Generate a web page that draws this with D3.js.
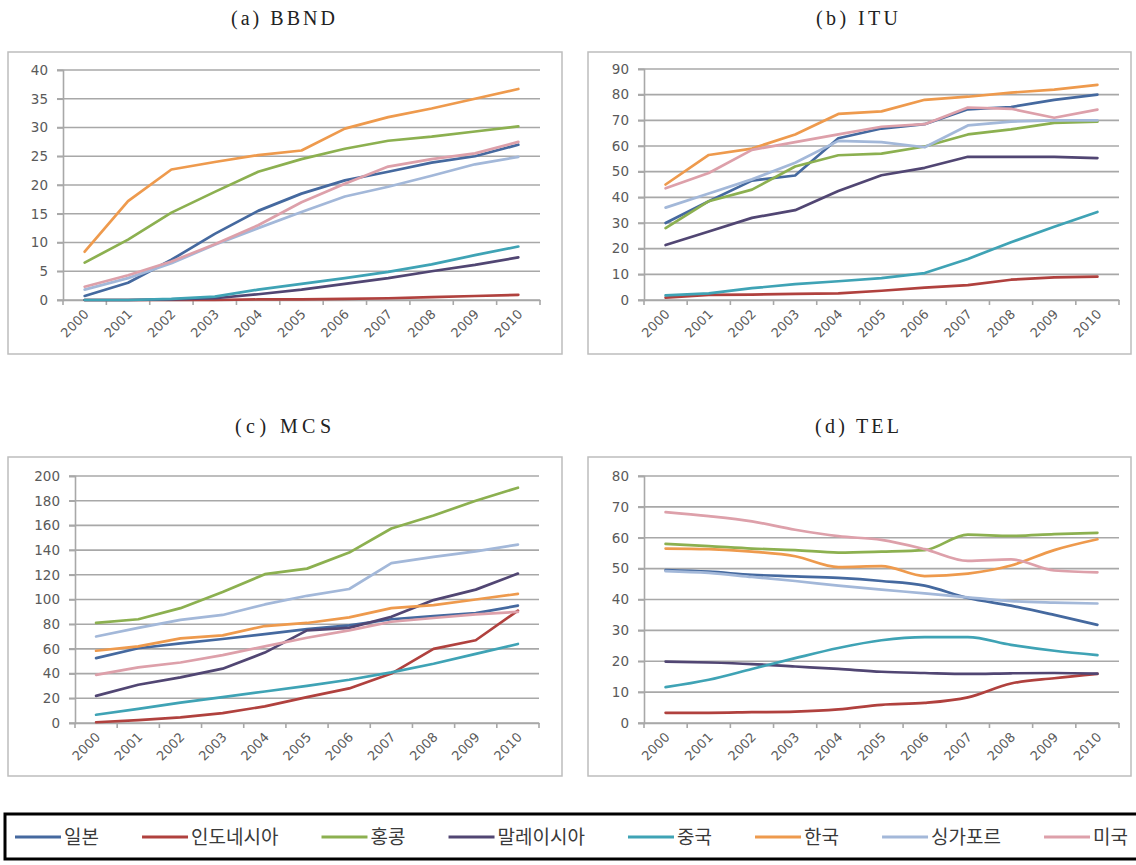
<!DOCTYPE html>
<html><head><meta charset="utf-8">
<script src="https://cdn.jsdelivr.net/npm/d3@7"></script>
<style>
html,body{margin:0;padding:0;background:#fff;}
svg{display:block;}
</style></head>
<body>
<svg id="chart" width="1136" height="865"></svg>
<script>
const years = ["2000","2001","2002","2003","2004","2005","2006","2007","2008","2009","2010"];
const countries = ["일본","인도네시아","홍콩","말레이시아","중국","한국","싱가포르","미국"];
const seriesColors = ["#45699F","#B0413E","#8CB050","#514673","#3FA3B5","#EE9A4D","#A3B8D9","#DDA0AA"];

// rows follow the order of `countries`
const bbnd = [
  [0.7, 3.0, 7.0, 11.5, 15.5, 18.5, 20.8, 22.3, 23.9, 25.0, 27.0],
  [0, 0, 0, 0, 0.1, 0.1, 0.2, 0.3, 0.5, 0.7, 0.9],
  [6.5, 10.5, 15.2, 18.8, 22.3, 24.5, 26.3, 27.7, 28.4, 29.3, 30.2],
  [0, 0, 0.1, 0.3, 1.0, 1.8, 2.8, 3.8, 5.0, 6.1, 7.4],
  [0, 0, 0.2, 0.6, 1.8, 2.8, 3.8, 4.9, 6.2, 7.8, 9.3],
  [8.4, 17.2, 22.7, 24.0, 25.2, 26.0, 29.8, 31.8, 33.3, 35.0, 36.7],
  [1.8, 3.8, 6.4, 9.6, 12.5, 15.3, 18.0, 19.7, 21.6, 23.6, 24.9],
  [2.3, 4.3, 6.7, 9.7, 13.0, 17.0, 20.2, 23.2, 24.5, 25.5, 27.5]
];
const itu = [
  [30, 38.5, 46.5, 48.5, 63, 66.8, 68.5, 74.3, 75.2, 78, 80],
  [0.9, 2.0, 2.1, 2.4, 2.6, 3.6, 4.8, 5.8, 7.9, 8.8, 9.1],
  [28, 38.5, 43, 52, 56.4, 57, 59.8, 64.5, 66.5, 69, 69.5],
  [21.4, 26.7, 32, 35, 42.5, 48.6, 51.5, 55.8, 55.8, 55.8, 55.3],
  [1.8, 2.6, 4.6, 6.2, 7.3, 8.5, 10.5, 16, 22.5, 28.5, 34.3],
  [45, 56.5, 59, 64.5, 72.5, 73.5, 78, 79.2, 80.8, 82, 83.8],
  [36, 41.5, 47, 53.5, 62, 61.5, 59.5, 68, 69.5, 70, 70],
  [43.5, 49.5, 58.5, 61.5, 64.5, 67.5, 68.5, 75, 74.5, 71, 74.2]
];
const mcs = [
  [52.5, 60.5, 64.5, 68, 72, 76, 79, 84, 86.5, 89, 95],
  [0.6, 2.4, 4.5, 8, 13.5, 21, 28, 40, 60, 67, 91],
  [81, 84, 93, 106, 120.5, 125, 138, 157.5, 168, 180, 190.5],
  [22, 31, 37, 44, 57, 75, 77, 86, 99.5, 108, 121],
  [6.7, 11.5, 16.5, 21, 25.5, 30, 35, 41, 48, 56, 64],
  [58.5, 62, 68.5, 71, 78.5, 81, 85.5, 93, 95.5, 100, 104.5],
  [70, 77, 83.5, 87.5, 96, 103, 108.5, 129.5, 134.5, 139, 144.5],
  [39, 45, 49, 55, 62, 69, 75, 82, 85, 88, 90]
];
const tel = [
  [49.5, 49, 48, 47.5, 47, 46, 44.5, 40.5, 38, 35, 31.8],
  [3.3, 3.3, 3.5, 3.7, 4.4, 5.9, 6.5, 8.3, 12.8, 14.5, 15.9],
  [58, 57.3, 56.5, 56, 55.2, 55.5, 56, 61, 60.6, 61.2, 61.6],
  [19.9, 19.6, 19.1, 18.3, 17.5, 16.6, 16.2, 15.9, 16.1, 16.2, 16],
  [11.6, 14, 17.5, 21, 24.3, 26.8, 27.8, 27.8, 25.3, 23.4, 22],
  [56.5, 56.3, 55.5, 54, 50.5, 50.8, 47.6, 48.4, 51, 56, 59.5],
  [49.2, 48.6, 47.3, 46, 44.5, 43.2, 42, 40.7, 39.5, 39, 38.7],
  [68.3, 67, 65.3, 62.6, 60.5, 59.3, 56.3, 52.5, 53, 49.4, 48.8]
];
const panelTitles = ["(a) BBND", "(b) ITU", "(c) MCS", "(d) TEL"];
const panelMax = [40, 90, 200, 80];
const panelStep = [5, 10, 20, 10];

// ---- layout (positions / styles) ----
const layouts = [
  {box:[8,52,562,354],    plot:{l:63, r:540, t:70,  b:300}, title:[283, 25],  tw:104},
  {box:[588,52,1131,354], plot:{l:644,r:1119,t:69,  b:300}, title:[857, 25],  tw:82},
  {box:[8,457,562,776],   plot:{l:75, r:539, t:476, b:723}, title:[283, 433], tw:96},
  {box:[588,457,1131,776],plot:{l:644,r:1119,t:476, b:723}, title:[857, 433], tw:84}
];
const panelData = [bbnd, itu, mcs, tel];
const curves = [d3.curveLinear, d3.curveLinear, d3.curveLinear, d3.curveMonotoneX];

const svg = d3.select("#chart");
svg.append("rect").attr("width",1136).attr("height",865).attr("fill","#fff");

const axisColor = "#a8a8a8";
const labelColor = "#5a5a5a";

panelData.forEach((data, pi) => {
  const L = layouts[pi];
  const g = svg.append("g");
  // title
  g.append("text")
    .attr("x", L.title[0]).attr("y", L.title[1])
    .attr("text-anchor","middle")
    .attr("font-family","'Liberation Serif', 'DejaVu Serif', serif")
    .attr("font-size", 20)
    .attr("fill","#222")
    .attr("textLength", L.tw).attr("lengthAdjust","spacing")
    .text(panelTitles[pi]);
  // frame
  g.append("rect")
    .attr("x", L.box[0]).attr("y", L.box[1])
    .attr("width", L.box[2]-L.box[0]).attr("height", L.box[3]-L.box[1])
    .attr("fill","#fff").attr("stroke","#bdbdbd").attr("stroke-width",1.5);

  const x = d3.scaleBand().domain(years).range([L.plot.l, L.plot.r]);
  const y = d3.scaleLinear().domain([0, panelMax[pi]]).range([L.plot.b, L.plot.t]);
  const ticks = d3.range(0, panelMax[pi] + panelStep[pi]/2, panelStep[pi]);

  // gridlines
  g.append("g").selectAll("line").data(ticks).join("line")
    .attr("x1", L.plot.l - 6).attr("x2", L.plot.r)
    .attr("y1", d => y(d)).attr("y2", d => y(d))
    .attr("stroke", axisColor).attr("stroke-width", 1.6);

  // y axis
  const yAxis = g.append("g").attr("transform", `translate(${L.plot.l},0)`)
    .call(d3.axisLeft(y).tickValues(ticks).tickSize(6).tickPadding(9).tickFormat(d3.format("d")));
  yAxis.select(".domain").attr("stroke", axisColor).attr("stroke-width",1.6);
  yAxis.selectAll(".tick line").attr("stroke", axisColor).attr("stroke-width",1.6);
  yAxis.selectAll(".tick text")
    .attr("font-family","'DejaVu Sans', sans-serif").attr("font-size",13.5)
    .attr("fill", labelColor);

  // x axis
  const xAxis = g.append("g").attr("transform", `translate(0,${L.plot.b})`)
    .call(d3.axisBottom(x).tickSize(0).tickPadding(0));
  xAxis.select(".domain").attr("stroke", axisColor).attr("stroke-width",1.6);
  xAxis.selectAll(".tick text")
    .attr("font-family","'DejaVu Sans', sans-serif").attr("font-size",13)
    .attr("fill", labelColor)
    .attr("text-anchor","end")
    .attr("dy", null).attr("y", 0)
    .attr("transform","translate(5,15) rotate(-45)");
  // category boundary tick marks
  const bounds = years.map(d => x(d)).concat([L.plot.r]);
  g.append("g").selectAll("line").data(bounds).join("line")
    .attr("x1", d => d).attr("x2", d => d)
    .attr("y1", L.plot.b).attr("y2", L.plot.b + 5)
    .attr("stroke", axisColor).attr("stroke-width",1.6);

  // series
  const line = d3.line()
    .x((d,i) => x(years[i]) + x.bandwidth()/2)
    .y(d => y(d))
    .curve(curves[pi]);
  g.append("g").selectAll("path").data(data).join("path")
    .attr("d", d => line(d))
    .attr("fill","none")
    .attr("stroke", (d,i) => seriesColors[i])
    .attr("stroke-width", 2.7)
    .attr("stroke-linejoin","round")
    .attr("stroke-linecap","round");
});

// legend
const lg = svg.append("g");
lg.append("rect").attr("x",5).attr("y",814).attr("width",1140).attr("height",45)
  .attr("fill","#fff").attr("stroke","#000").attr("stroke-width",3);
const items = lg.selectAll("g.item").data(countries).join("g").attr("class","item");
items.append("line").attr("x1",0).attr("x2",46).attr("y1",0).attr("y2",0)
  .attr("stroke",(d,i)=>seriesColors[i]).attr("stroke-width",3);
items.append("text").attr("x",49).attr("y",0).attr("dy","0.35em")
  .attr("font-family","'Noto Sans CJK KR', sans-serif").attr("font-size",19)
  .attr("fill","#3a3a3a").text(d=>d);
// place sequentially, spreading items across the available width
const widths = [];
items.each(function(){ widths.push(49 + d3.select(this).select("text").node().getComputedTextLength()); });
const startX = 15, endX = 1128;
const gap = (endX - startX - d3.sum(widths)) / (countries.length - 1);
let cx = startX;
items.each(function(d,i){
  d3.select(this).attr("transform", `translate(${cx},837)`);
  cx += widths[i] + gap;
});
</script>
</body></html>
